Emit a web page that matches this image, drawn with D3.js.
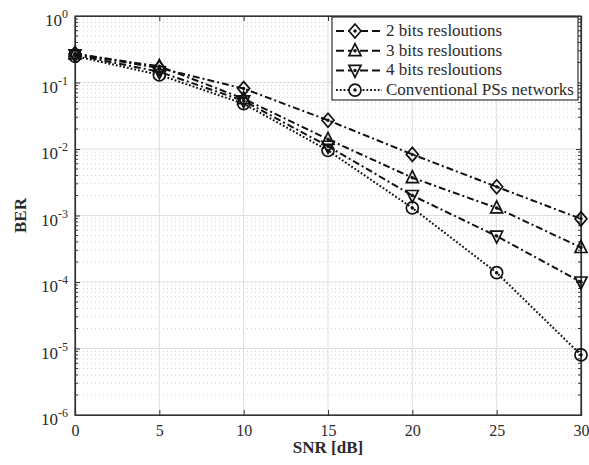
<!DOCTYPE html>
<html>
<head>
<meta charset="utf-8">
<script src="https://cdn.jsdelivr.net/npm/d3@7"></script>
<style>
  body { margin: 0; background: #fff; }
  text { font-family: "Liberation Serif", "DejaVu Serif", serif; fill: #2a2a2a; }
</style>
</head>
<body>
<script>
// Data
const snr = [0, 5, 10, 15, 20, 25, 30];
const ber2bits = [0.27, 0.165, 0.081, 0.027, 0.0083, 0.0027, 0.00089];
const ber3bits = [0.27, 0.175, 0.057, 0.014, 0.0037, 0.0013, 0.00033];
const ber4bits = [0.26, 0.145, 0.053, 0.011, 0.002, 0.00049, 0.0001];
const berConv = [0.25, 0.13, 0.048, 0.0095, 0.0013, 0.000138, 0.000008];
const xTicks = [0, 5, 10, 15, 20, 25, 30];
const yExponents = [0, -1, -2, -3, -4, -5, -6];
const seriesNames = ["2 bits resloutions", "3 bits resloutions", "4 bits resloutions", "Conventional PSs networks"];

const width = 589, height = 465;
const margin = {top: 16, right: 8, bottom: 50, left: 75};

const svg = d3.select('body')
    .append('svg')
    .attr('width', width)
    .attr('height', height);

const x = d3.scaleLinear().domain([0, 30]).range([margin.left, width - margin.right]);
const y = d3.scaleLog().domain([1e-6, 1]).range([height - margin.bottom, margin.top]);

const x0 = x.range()[0], x1 = x.range()[1];
const y0 = y.range()[0], y1 = y.range()[1];

// Minor grid (dotted)
const minorVals = [];
for (let e = -6; e < 0; e++) {
    for (let m = 2; m <= 9; m++) minorVals.push(m * Math.pow(10, e));
}
const grid = svg.append('g');
grid.selectAll('.minor')
    .data(minorVals)
    .join('line')
    .attr('x1', x0).attr('x2', x1)
    .attr('y1', d => y(d)).attr('y2', d => y(d))
    .attr('stroke', '#c4c4c4')
    .attr('stroke-width', 0.8)
    .attr('stroke-dasharray', '1,3');

// Major grid
grid.selectAll('.majy')
    .data(yExponents.map(e => Math.pow(10, e)))
    .join('line')
    .attr('x1', x0).attr('x2', x1)
    .attr('y1', d => y(d)).attr('y2', d => y(d))
    .attr('stroke', '#dedede')
    .attr('stroke-width', 1);
grid.selectAll('.majx')
    .data(xTicks)
    .join('line')
    .attr('x1', d => x(d)).attr('x2', d => x(d))
    .attr('y1', y0).attr('y2', y1)
    .attr('stroke', '#dedede')
    .attr('stroke-width', 1);

// Axes
const xAxis = d3.axisBottom(x).tickValues(xTicks).tickSize(-5).tickPadding(10).tickFormat(d3.format('d'));
const xAxisTop = d3.axisTop(x).tickValues(xTicks).tickSize(-5).tickFormat('');
svg.append('g').attr('transform', `translate(0,${y0})`).call(xAxis)
    .call(g => g.selectAll('text').attr('font-size', 16).style('font-family', '"Liberation Serif", serif').attr('fill', '#2a2a2a'));
svg.append('g').attr('transform', `translate(0,${y1})`).call(xAxisTop);

const yAxis = d3.axisLeft(y).tickValues(yExponents.map(e => Math.pow(10, e))).tickSize(-5).tickFormat('');
const yAxisR = d3.axisRight(y).tickValues(yExponents.map(e => Math.pow(10, e))).tickSize(-5).tickFormat('');
svg.append('g').attr('transform', `translate(${x0},0)`).call(yAxis);
svg.append('g').attr('transform', `translate(${x1},0)`).call(yAxisR);

// minor ticks on y sides
const minorTicks = svg.append('g');
minorTicks.selectAll('.ml')
    .data(minorVals)
    .join('line')
    .attr('x1', x0).attr('x2', x0 + 3)
    .attr('y1', d => y(d)).attr('y2', d => y(d))
    .attr('stroke', '#333');
minorTicks.selectAll('.mr')
    .data(minorVals)
    .join('line')
    .attr('x1', x1).attr('x2', x1 - 3)
    .attr('y1', d => y(d)).attr('y2', d => y(d))
    .attr('stroke', '#333');

svg.selectAll('.domain').attr('stroke', '#333').attr('stroke-width', 1.2);
svg.selectAll('.tick line').attr('stroke', '#333');

// Box
svg.append('rect')
    .attr('x', x0).attr('y', y1)
    .attr('width', x1 - x0).attr('height', y0 - y1)
    .attr('fill', 'none').attr('stroke', '#333').attr('stroke-width', 1.2);

// Y tick labels with superscripts
const yLab = svg.append('g');
yExponents.forEach(e => {
    const t = yLab.append('text')
        .attr('x', x0 - 7)
        .attr('y', y(Math.pow(10, e)) + 10)
        .attr('text-anchor', 'end')
        .attr('font-size', 17);
    t.append('tspan').text('10');
    t.append('tspan').attr('dy', -8).attr('font-size', 12).text(e);
});

// Axis labels
svg.append('text')
    .attr('x', (x0 + x1) / 2)
    .attr('y', 453)
    .attr('text-anchor', 'middle')
    .attr('font-size', 17)
    .attr('font-weight', 'bold')
    .text('SNR [dB]');
svg.append('text')
    .attr('transform', `translate(26,${(y0 + y1) / 2}) rotate(-90)`)
    .attr('text-anchor', 'middle')
    .attr('font-size', 17)
    .attr('font-weight', 'bold')
    .text('BER');

// Markers
function marker(g, type, cx, cy) {
    const s = 6;
    if (type === 'diamond') {
        g.append('path').attr('d', `M${cx},${cy - s - 1}L${cx + s},${cy}L${cx},${cy + s + 1}L${cx - s},${cy}Z`);
    } else if (type === 'up') {
        g.append('path').attr('d', `M${cx},${cy - s - 1}L${cx + s},${cy + s - 1}L${cx - s},${cy + s - 1}Z`);
    } else if (type === 'down') {
        g.append('path').attr('d', `M${cx},${cy + s + 1}L${cx + s},${cy - s + 1}L${cx - s},${cy - s + 1}Z`);
    } else {
        g.append('circle').attr('cx', cx).attr('cy', cy).attr('r', s);
    }
    g.append('circle').attr('cx', cx).attr('cy', cy).attr('r', 0.9).attr('fill', '#111');
}

const series = [
    {name: seriesNames[0], values: ber2bits, type: 'diamond', dash: '7,3,2,3'},
    {name: seriesNames[1], values: ber3bits, type: 'up', dash: '7,3,2,3'},
    {name: seriesNames[2], values: ber4bits, type: 'down', dash: '7,3,2,3'},
    {name: seriesNames[3], values: berConv, type: 'circle', dash: '1.8,2'}
];

const line = d3.line().x(d => x(d[0])).y(d => y(d[1]));
const plot = svg.append('g');
series.forEach(s => {
    const pts = snr.map((v, i) => [v, s.values[i]]);
    plot.append('path')
        .attr('d', line(pts))
        .attr('fill', 'none')
        .attr('stroke', '#111')
        .attr('stroke-width', 2)
        .attr('stroke-dasharray', s.dash);
    const mg = plot.append('g').attr('fill', 'none').attr('stroke', '#111').attr('stroke-width', 1.7);
    pts.forEach(p => marker(mg, s.type, x(p[0]), y(p[1])));
});

// Legend
const lg = svg.append('g');
const lx = 332, ly = 17, lw = 246, lh = 83;
lg.append('rect').attr('x', lx).attr('y', ly).attr('width', lw).attr('height', lh)
    .attr('fill', '#fff').attr('stroke', '#333').attr('stroke-width', 1.2);
series.forEach((s, i) => {
    const yy = ly + 14 + i * 19.7;
    lg.append('line')
        .attr('x1', lx + 4).attr('x2', lx + 50)
        .attr('y1', yy).attr('y2', yy)
        .attr('stroke', '#111').attr('stroke-width', 2)
        .attr('stroke-dasharray', i < 3 ? '8,4' : '1.8,2');
    const mg = lg.append('g').attr('fill', '#fff').attr('stroke', '#111').attr('stroke-width', 1.7);
    marker(mg, s.type, lx + 23, yy);
    lg.append('text')
        .attr('x', lx + 54)
        .attr('y', yy + 5)
        .attr('font-size', 17)
        .text(s.name);
});
</script>
</body>
</html>
